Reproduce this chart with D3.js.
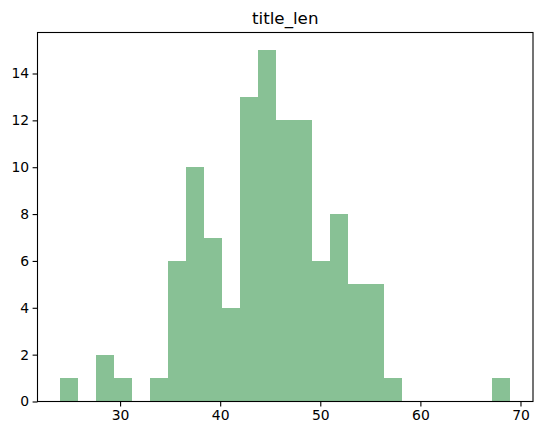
<!DOCTYPE html>
<html>
<head>
<meta charset="utf-8">
<script src="https://cdn.jsdelivr.net/npm/d3@7"></script>
<style>
  body { margin: 0; background: #fff; }
  text { font-family: "DejaVu Sans", sans-serif; fill: #000; }
</style>
</head>
<body>
<div id="chart"></div>
<script>
// histogram of title_len: 25 bins between 24 and 69
var title = "title_len";
var binStart = 24;
var binEnd = 69;
var counts = [1, 0, 2, 1, 0, 1, 6, 10, 7, 4, 13, 15, 12, 12, 6, 8, 5, 5, 1, 0, 0, 0, 0, 0, 1];
var xTicks = [30, 40, 50, 60, 70];
var yTicks = [0, 2, 4, 6, 8, 10, 12, 14];

var width = 543, height = 435;
var plotLeft = 37.5, plotRight = 533, plotTop = 32.5, plotBottom = 401.5;

var svg = d3.select("#chart").append("svg")
    .attr("width", width)
    .attr("height", height);

var binWidth = (binEnd - binStart) / counts.length;
var bins = counts.map(function (c, i) {
    return { x0: binStart + i * binWidth, x1: binStart + (i + 1) * binWidth, count: c };
});

var pad = (binEnd - binStart) * 0.05;
var x = d3.scaleLinear()
    .domain([binStart - pad, binEnd + pad])
    .range([plotLeft, plotRight]);

var yMax = d3.max(counts) * 1.05;
var y = d3.scaleLinear()
    .domain([0, yMax])
    .range([plotBottom, plotTop]);

svg.append("g")
    .selectAll("rect")
    .data(bins.filter(function (d) { return d.count > 0; }))
    .enter()
    .append("rect")
    .attr("x", function (d) { return x(d.x0); })
    .attr("width", function (d) { return x(d.x1) - x(d.x0); })
    .attr("y", function (d) { return y(d.count); })
    .attr("height", function (d) { return y(0) - y(d.count); })
    .attr("fill", "rgb(136,193,149)")
    .attr("shape-rendering", "crispEdges");

//axes
var xAxis = d3.axisBottom(x)
    .tickValues(xTicks)
    .tickSize(4.9)
    .tickPadding(3.5);

var yAxis = d3.axisLeft(y)
    .tickValues(yTicks)
    .tickSize(4.9)
    .tickPadding(3.5);

var gx = svg.append("g")
    .attr("transform", "translate(0," + plotBottom + ")")
    .call(xAxis);

var gy = svg.append("g")
    .attr("transform", "translate(" + plotLeft + ",0)")
    .call(yAxis);

[gx, gy].forEach(function (g) {
    g.attr("font-size", null).attr("font-family", null);
    g.select(".domain").remove();
    g.selectAll(".tick line").attr("stroke", "#000").attr("stroke-width", 1.1);
    g.selectAll(".tick text")
        .style("font-family", "DejaVu Sans")
        .style("font-size", "13.9px")
        .attr("fill", "#000");
});

//frame
svg.append("rect")
    .attr("x", plotLeft)
    .attr("y", plotTop)
    .attr("width", plotRight - plotLeft)
    .attr("height", plotBottom - plotTop)
    .attr("fill", "none")
    .attr("stroke", "#000")
    .attr("stroke-width", 1.1);

svg.append("text")
    .attr("x", (plotLeft + plotRight) / 2)
    .attr("y", plotTop - 8.3)
    .attr("text-anchor", "middle")
    .style("font-size", "16.7px")
    .text(title);
</script>
</body>
</html>
